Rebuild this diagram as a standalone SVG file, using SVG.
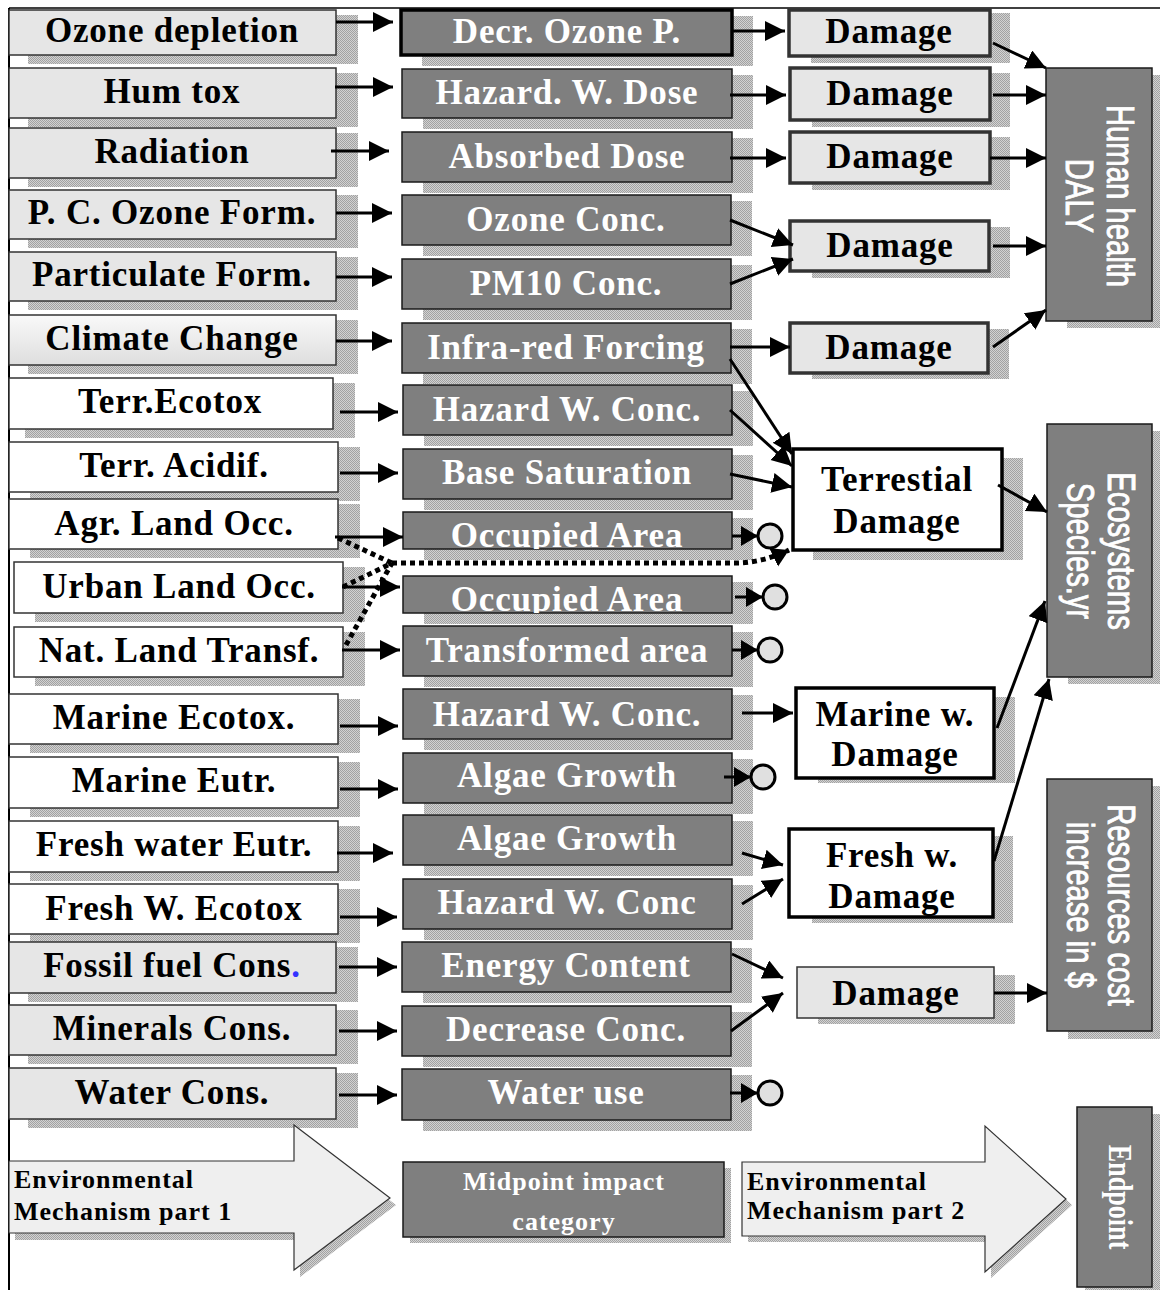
<svg xmlns="http://www.w3.org/2000/svg" width="1160" height="1290" viewBox="0 0 1160 1290">
  <defs>
    <!-- dithered grey used for drop shadows -->
    <pattern id="dots" width="2" height="2" patternUnits="userSpaceOnUse">
      <rect width="2" height="2" fill="#d2d2d2"/>
      <rect width="1" height="1" fill="#a2a2a2"/>
      <rect x="1" y="1" width="1" height="1" fill="#a2a2a2"/>
    </pattern>
    <linearGradient id="gradLight" x1="0" y1="0" x2="0" y2="1">
      <stop offset="0" stop-color="#f9f9f9"/>
      <stop offset="1" stop-color="#dedede"/>
    </linearGradient>
    <marker id="ah" markerUnits="userSpaceOnUse" markerWidth="22" markerHeight="22" refX="20" refY="10" orient="auto">
      <path d="M0,0 L20,10 L0,20 z" fill="#000"/>
    </marker>
    <marker id="ahs" markerUnits="userSpaceOnUse" markerWidth="20" markerHeight="22" refX="17" refY="10" orient="auto">
      <path d="M0,0 L17,10 L0,20 z" fill="#000"/>
    </marker>
    <clipPath id="clipOcc1"><rect x="403" y="512" width="329" height="37"/></clipPath>
    <clipPath id="clipOcc2"><rect x="403" y="576" width="329" height="37"/></clipPath>
    <clipPath id="clipMid"><rect x="403" y="1162" width="321" height="75"/></clipPath>
  </defs>
  <style>
    .sh { fill: url(#dots); }
    .lg { fill: #e6e6e6; stroke: #333; stroke-width: 1.5; }
    .lgr { fill: url(#gradLight); stroke: #333; stroke-width: 1.5; }
    .lw { fill: #fff; stroke: #333; stroke-width: 1.5; }
    .mid { fill: #7f7f7f; stroke: #1a1a1a; stroke-width: 1.5; }
    .midk { fill: #7f7f7f; stroke: #000; stroke-width: 3.5; }
    .dmg { fill: #e6e6e6; stroke: #333; stroke-width: 3.5; }
    .dmgt { fill: #e6e6e6; stroke: #333; stroke-width: 1.5; }
    .wbox { fill: #fff; stroke: #000; stroke-width: 3.5; }
    .end { fill: #7f7f7f; stroke: #1a1a1a; stroke-width: 1.5; }
    .bigarrow { fill: #efefef; stroke: #333; stroke-width: 1.2; }
    .term { fill: #e0e0e0; stroke: #000; stroke-width: 3; }
    .t { font-family: "Liberation Serif", "Times New Roman", serif; font-weight: 700; font-size: 35px; letter-spacing: 0.8px; text-anchor: middle; fill: #000; }
    .tw { fill: #fff; }
    .leg { font-family: "Liberation Serif", "Times New Roman", serif; font-weight: 700; font-size: 26px; letter-spacing: 1px; fill: #000; }
    .legw { font-family: "Liberation Serif", "Times New Roman", serif; font-weight: 700; font-size: 26px; letter-spacing: 1px; fill: #fff; text-anchor: middle; }
    .rs { font-family: "Liberation Sans", Arial, sans-serif; font-size: 38px; fill: #fff; stroke: #fff; stroke-width: 0.9; text-anchor: middle; }
    .rt { font-family: "Liberation Serif", "Times New Roman", serif; font-weight: 700; font-size: 34px; fill: #fff; text-anchor: middle; }
    .ln { stroke: #000; stroke-width: 3; fill: none; marker-end: url(#ah); }
    .lns { stroke: #000; stroke-width: 3; fill: none; marker-end: url(#ahs); }
    .dot { stroke: #000; stroke-width: 5; stroke-dasharray: 5 4; fill: none; }
    .frame { stroke: #000; fill: none; }
  </style>

  <rect width="1160" height="1290" fill="#fff"/>

  <!-- page frame -->
  <g id="frame">
    <line class="frame" x1="9" y1="8" x2="1160" y2="8" stroke-width="1.5"/>
    <line class="frame" x1="9" y1="8" x2="9" y2="1290" stroke-width="2"/>
  </g>

  <!-- impact categories (left column) -->
  <g id="cat-ozone-depletion"><rect class="sh" x="28" y="15" width="330" height="49"/><rect class="lg" x="9" y="10" width="327" height="45"/><text class="t" x="172" y="42">Ozone depletion</text></g>
  <g id="cat-hum-tox"><rect class="sh" x="28" y="73" width="330" height="54"/><rect class="lg" x="9" y="68" width="327" height="50"/><text class="t" x="172" y="103">Hum tox</text></g>
  <g id="cat-radiation"><rect class="sh" x="28" y="133" width="330" height="54"/><rect class="lg" x="9" y="128" width="327" height="50"/><text class="t" x="172" y="163">Radiation</text></g>
  <g id="cat-pc-ozone"><rect class="sh" x="28" y="195" width="330" height="53"/><rect class="lg" x="9" y="190" width="327" height="49"/><text class="t" x="172" y="224">P. C. Ozone Form.</text></g>
  <g id="cat-particulate"><rect class="sh" x="28" y="257" width="330" height="53"/><rect class="lg" x="9" y="252" width="327" height="49"/><text class="t" x="172" y="286">Particulate Form.</text></g>
  <g id="cat-climate"><rect class="sh" x="28" y="320" width="330" height="54"/><rect class="lgr" x="9" y="315" width="327" height="50"/><text class="t" x="172" y="350">Climate Change</text></g>
  <g id="cat-terr-ecotox"><rect class="sh" x="25" y="383" width="330" height="55"/><rect class="lw" x="9" y="378" width="324" height="51"/><text class="t" x="170" y="413">Terr.Ecotox</text></g>
  <g id="cat-terr-acidif"><rect class="sh" x="30" y="447" width="330" height="54"/><rect class="lw" x="9" y="442" width="329" height="50"/><text class="t" x="174" y="477">Terr. Acidif.</text></g>
  <g id="cat-agr-land"><rect class="sh" x="30" y="504" width="330" height="54"/><rect class="lw" x="9" y="499" width="329" height="50"/><text class="t" x="174" y="535">Agr. Land Occ.</text></g>
  <g id="cat-urban-land"><rect class="sh" x="35" y="567" width="330" height="55"/><rect class="lw" x="14" y="562" width="329" height="51"/><text class="t" x="179" y="598">Urban Land Occ.</text></g>
  <g id="cat-nat-land"><rect class="sh" x="35" y="632" width="330" height="54"/><rect class="lw" x="14" y="627" width="329" height="50"/><text class="t" x="179" y="662">Nat. Land Transf.</text></g>
  <g id="cat-marine-ecotox"><rect class="sh" x="30" y="699" width="330" height="54"/><rect class="lw" x="9" y="694" width="329" height="50"/><text class="t" x="174" y="729">Marine Ecotox.</text></g>
  <g id="cat-marine-eutr"><rect class="sh" x="30" y="762" width="330" height="55"/><rect class="lw" x="9" y="757" width="329" height="51"/><text class="t" x="174" y="792">Marine Eutr.</text></g>
  <g id="cat-fresh-eutr"><rect class="sh" x="30" y="826" width="330" height="55"/><rect class="lw" x="9" y="821" width="329" height="51"/><text class="t" x="174" y="856">Fresh water Eutr.</text></g>
  <g id="cat-fresh-ecotox"><rect class="sh" x="30" y="889" width="330" height="54"/><rect class="lw" x="9" y="884" width="329" height="50"/><text class="t" x="174" y="920">Fresh W. Ecotox</text></g>
  <g id="cat-fossil"><rect class="sh" x="28" y="947" width="330" height="55"/><rect class="lg" x="9" y="942" width="327" height="51"/><text class="t" x="172" y="977">Fossil fuel Cons<tspan fill="#3333ff">.</tspan></text></g>
  <g id="cat-minerals"><rect class="sh" x="28" y="1010" width="330" height="54"/><rect class="lg" x="9" y="1005" width="327" height="50"/><text class="t" x="172" y="1040">Minerals Cons.</text></g>
  <g id="cat-water"><rect class="sh" x="28" y="1073" width="330" height="55"/><rect class="lg" x="9" y="1068" width="327" height="51"/><text class="t" x="172" y="1104">Water Cons.</text></g>

  <!-- midpoint indicators (middle column) -->
  <g id="mid-decr-ozone"><rect class="sh" x="422" y="16" width="331" height="50"/><rect class="midk" x="401" y="10" width="331" height="45"/><text class="t tw" x="567" y="43">Decr. Ozone P.</text></g>
  <g id="mid-hazard-dose"><rect class="sh" x="423" y="75" width="330" height="54"/><rect class="mid" x="402" y="69" width="330" height="49"/><text class="t tw" x="567" y="104">Hazard. W. Dose</text></g>
  <g id="mid-absorbed"><rect class="sh" x="423" y="138" width="330" height="55"/><rect class="mid" x="402" y="132" width="330" height="50"/><text class="t tw" x="567" y="168">Absorbed Dose</text></g>
  <g id="mid-ozone-conc"><rect class="sh" x="423" y="201" width="329" height="55"/><rect class="mid" x="402" y="195" width="329" height="50"/><text class="t tw" x="566" y="231">Ozone Conc.</text></g>
  <g id="mid-pm10"><rect class="sh" x="423" y="265" width="329" height="55"/><rect class="mid" x="402" y="259" width="329" height="50"/><text class="t tw" x="566" y="295">PM10 Conc.</text></g>
  <g id="mid-infrared"><rect class="sh" x="423" y="329" width="329" height="55"/><rect class="mid" x="402" y="323" width="329" height="50"/><text class="t tw" x="566" y="359">Infra-red Forcing</text></g>
  <g id="mid-hazard-conc-terr"><rect class="sh" x="424" y="391" width="329" height="55"/><rect class="mid" x="403" y="385" width="329" height="50"/><text class="t tw" x="567" y="421">Hazard W. Conc.</text></g>
  <g id="mid-base-sat"><rect class="sh" x="424" y="455" width="329" height="55"/><rect class="mid" x="403" y="449" width="329" height="50"/><text class="t tw" x="567" y="484">Base Saturation</text></g>
  <g id="mid-occupied-1"><rect class="sh" x="424" y="518" width="329" height="42"/><rect class="mid" x="403" y="512" width="329" height="37"/><text class="t tw" x="567" y="547" clip-path="url(#clipOcc1)">Occupied Area</text></g>
  <g id="mid-occupied-2"><rect class="sh" x="424" y="582" width="329" height="42"/><rect class="mid" x="403" y="576" width="329" height="37"/><text class="t tw" x="567" y="611" clip-path="url(#clipOcc2)">Occupied Area</text></g>
  <g id="mid-transformed"><rect class="sh" x="424" y="632" width="329" height="55"/><rect class="mid" x="403" y="626" width="329" height="50"/><text class="t tw" x="567" y="662">Transformed area</text></g>
  <g id="mid-hazard-conc-marine"><rect class="sh" x="424" y="695" width="329" height="55"/><rect class="mid" x="403" y="689" width="329" height="50"/><text class="t tw" x="567" y="726">Hazard W. Conc.</text></g>
  <g id="mid-algae-1"><rect class="sh" x="424" y="759" width="329" height="55"/><rect class="mid" x="403" y="753" width="329" height="50"/><text class="t tw" x="567" y="787">Algae Growth</text></g>
  <g id="mid-algae-2"><rect class="sh" x="424" y="821" width="329" height="55"/><rect class="mid" x="403" y="815" width="329" height="50"/><text class="t tw" x="567" y="850">Algae Growth</text></g>
  <g id="mid-hazard-conc-fresh"><rect class="sh" x="424" y="885" width="329" height="55"/><rect class="mid" x="403" y="879" width="329" height="50"/><text class="t tw" x="567" y="914">Hazard W. Conc</text></g>
  <g id="mid-energy"><rect class="sh" x="423" y="948" width="329" height="55"/><rect class="mid" x="402" y="942" width="329" height="50"/><text class="t tw" x="566" y="977">Energy Content</text></g>
  <g id="mid-decrease"><rect class="sh" x="423" y="1012" width="329" height="55"/><rect class="mid" x="402" y="1006" width="329" height="50"/><text class="t tw" x="566" y="1041">Decrease Conc.</text></g>
  <g id="mid-water-use"><rect class="sh" x="423" y="1075" width="329" height="56"/><rect class="mid" x="402" y="1069" width="329" height="51"/><text class="t tw" x="566" y="1104">Water use</text></g>

  <!-- damage nodes -->
  <g id="dmg-ozone"><rect class="sh" x="811" y="13" width="199" height="50"/><rect class="dmg" x="789" y="10" width="201" height="46"/><text class="t" x="889" y="43">Damage</text></g>
  <g id="dmg-hazard"><rect class="sh" x="812" y="73" width="198" height="54"/><rect class="dmg" x="790" y="68" width="200" height="52"/><text class="t" x="890" y="105">Damage</text></g>
  <g id="dmg-radiation"><rect class="sh" x="812" y="137" width="198" height="53"/><rect class="dmg" x="790" y="132" width="200" height="51"/><text class="t" x="890" y="168">Damage</text></g>
  <g id="dmg-ozone-pm"><rect class="sh" x="812" y="227" width="198" height="51"/><rect class="dmg" x="790" y="221" width="199" height="50"/><text class="t" x="890" y="257">Damage</text></g>
  <g id="dmg-climate"><rect class="sh" x="812" y="329" width="197" height="50"/><rect class="dmg" x="790" y="323" width="198" height="50"/><text class="t" x="889" y="359">Damage</text></g>
  <g id="dmg-terrestrial"><rect class="sh" x="813" y="458" width="210" height="102"/><rect class="wbox" x="793" y="449" width="209" height="101"/><text class="t" x="897" y="491">Terrestial</text><text class="t" x="897" y="533">Damage</text></g>
  <g id="dmg-marine"><rect class="sh" x="818" y="697" width="197" height="86"/><rect class="wbox" x="796" y="688" width="198" height="90"/><text class="t" x="895" y="726">Marine w.</text><text class="t" x="895" y="766">Damage</text></g>
  <g id="dmg-fresh"><rect class="sh" x="812" y="836" width="201" height="87"/><rect class="wbox" x="789" y="829" width="204" height="88"/><text class="t" x="892" y="867">Fresh w.</text><text class="t" x="892" y="908">Damage</text></g>
  <g id="dmg-resources"><rect class="sh" x="818" y="975" width="197" height="49"/><rect class="dmgt" x="797" y="967" width="197" height="51"/><text class="t" x="896" y="1005">Damage</text></g>

  <!-- end-of-chain terminators -->
  <g id="term-occupied-1"><circle class="term" cx="770" cy="536" r="12"/></g>
  <g id="term-occupied-2"><circle class="term" cx="775" cy="597" r="12"/></g>
  <g id="term-transformed"><circle class="term" cx="770" cy="650" r="12"/></g>
  <g id="term-algae"><circle class="term" cx="763" cy="777" r="12"/></g>
  <g id="term-water"><circle class="term" cx="770" cy="1093" r="12"/></g>

  <!-- endpoint categories -->
  <g id="end-human-health"><rect class="sh" x="1067" y="75" width="93" height="253"/><rect class="end" x="1046" y="68" width="106" height="253"/><text class="rs" transform="translate(1107,196) rotate(90) scale(0.77,1)">Human health</text><text class="rs" transform="translate(1066,196) rotate(90) scale(0.77,1)">DALY</text></g>
  <g id="end-ecosystems"><rect class="sh" x="1068" y="431" width="92" height="253"/><rect class="end" x="1047" y="424" width="105" height="253"/><text class="rs" transform="translate(1108,551) rotate(90) scale(0.77,1)">Ecosystems</text><text class="rs" transform="translate(1067,551) rotate(90) scale(0.77,1)">Species.yr</text></g>
  <g id="end-resources"><rect class="sh" x="1068" y="786" width="92" height="253"/><rect class="end" x="1047" y="779" width="105" height="252"/><text class="rs" transform="translate(1108,905) rotate(90) scale(0.77,1)">Resources cost</text><text class="rs" transform="translate(1067,905) rotate(90) scale(0.77,1)">increase in $</text></g>

  <!-- legend -->
  <g id="legend-mechanism-1">
    <path class="sh" d="M15,1168 L300,1168 L300,1132 L396,1205 L300,1277 L300,1240 L15,1240 Z"/>
    <path class="bigarrow" d="M9,1161 L294,1161 L294,1125 L390,1198 L294,1270 L294,1233 L9,1233 Z"/>
    <text class="leg" x="14" y="1188">Environmental</text>
    <text class="leg" x="14" y="1220">Mechanism part 1</text>
  </g>
  <g id="legend-midpoint">
    <rect class="sh" x="410" y="1168" width="321" height="75"/>
    <rect class="end" x="403" y="1162" width="321" height="75"/>
    <g clip-path="url(#clipMid)">
      <text class="legw" x="564" y="1190">Midpoint impact</text>
      <text class="legw" x="564" y="1230">category</text>
    </g>
  </g>
  <g id="legend-mechanism-2">
    <path class="sh" d="M748,1168 L991,1168 L991,1132 L1072,1205 L991,1278 L991,1242 L748,1242 Z"/>
    <path class="bigarrow" d="M742,1162 L985,1162 L985,1126 L1066,1199 L985,1272 L985,1236 L742,1236 Z"/>
    <text class="leg" x="747" y="1190">Environmental</text>
    <text class="leg" x="747" y="1219">Mechanism part 2</text>
  </g>
  <g id="legend-endpoint">
    <rect class="sh" x="1085" y="1114" width="75" height="176"/>
    <rect class="end" x="1077" y="1107" width="75" height="180"/>
    <text class="rt" transform="translate(1109,1197) rotate(90) scale(0.77,1)">Endpoint</text>
  </g>

  <!-- connectors -->
  <g id="connectors">
    <!-- category to midpoint -->
    <line class="ln" x1="336" y1="22" x2="393" y2="22"/>
    <line class="ln" x1="335" y1="87" x2="393" y2="87"/>
    <line class="ln" x1="331" y1="151" x2="389" y2="151"/>
    <line class="ln" x1="336" y1="213" x2="392" y2="213"/>
    <line class="ln" x1="336" y1="277" x2="392" y2="277"/>
    <line class="ln" x1="336" y1="341" x2="392" y2="341"/>
    <line class="ln" x1="340" y1="412" x2="398" y2="412"/>
    <line class="ln" x1="340" y1="473" x2="398" y2="473"/>
    <line class="ln" x1="335" y1="537" x2="403" y2="537"/>
    <line class="ln" x1="342" y1="587" x2="400" y2="587"/>
    <line class="ln" x1="342" y1="650" x2="400" y2="650"/>
    <line class="ln" x1="340" y1="726" x2="398" y2="726"/>
    <line class="ln" x1="340" y1="789" x2="398" y2="789"/>
    <line class="ln" x1="337" y1="853" x2="393" y2="853"/>
    <line class="ln" x1="340" y1="917" x2="397" y2="917"/>
    <line class="ln" x1="339" y1="967" x2="397" y2="967"/>
    <line class="ln" x1="339" y1="1031" x2="397" y2="1031"/>
    <line class="ln" x1="339" y1="1095" x2="397" y2="1095"/>

    <!-- land use: dotted path to terrestrial damage -->
    <path class="dot" d="M338,538 L392,563"/>
    <path class="dot" d="M343,587 L392,563"/>
    <path class="dot" d="M346,645 L392,563"/>
    <path class="dot" d="M392,563 L735,563 Q762,563 789,550" marker-end="url(#ahs)"/>

    <!-- midpoint to damage -->
    <line class="ln" x1="732" y1="31" x2="785" y2="31"/>
    <line class="ln" x1="730" y1="95" x2="786" y2="95"/>
    <line class="ln" x1="730" y1="158" x2="786" y2="158"/>
    <line class="ln" x1="730" y1="220" x2="793" y2="245"/>
    <line class="ln" x1="730" y1="284" x2="793" y2="259"/>
    <line class="ln" x1="730" y1="347" x2="790" y2="347"/>
    <line class="ln" x1="730" y1="359" x2="792" y2="454"/>
    <line class="ln" x1="730" y1="410" x2="792" y2="466"/>
    <line class="ln" x1="730" y1="474" x2="792" y2="487"/>
    <line class="ln" x1="742" y1="713" x2="793" y2="713"/>
    <line class="ln" x1="742" y1="853" x2="783" y2="865"/>
    <line class="ln" x1="742" y1="904" x2="783" y2="879"/>
    <line class="ln" x1="732" y1="954" x2="783" y2="978"/>
    <line class="ln" x1="731" y1="1031" x2="783" y2="993"/>

    <!-- midpoint to terminators -->
    <line class="lns" x1="732" y1="536" x2="758" y2="536"/>
    <line class="lns" x1="735" y1="597" x2="763" y2="597"/>
    <line class="lns" x1="732" y1="650" x2="758" y2="650"/>
    <line class="lns" x1="724" y1="777" x2="751" y2="777"/>
    <line class="lns" x1="730" y1="1093" x2="758" y2="1093"/>

    <!-- damage to endpoint -->
    <line class="ln" x1="993" y1="43" x2="1046" y2="68"/>
    <line class="ln" x1="993" y1="95" x2="1046" y2="95"/>
    <line class="ln" x1="990" y1="158" x2="1046" y2="158"/>
    <line class="ln" x1="993" y1="246" x2="1046" y2="246"/>
    <line class="ln" x1="993" y1="347" x2="1046" y2="310"/>
    <line class="ln" x1="998" y1="485" x2="1047" y2="512"/>
    <line class="ln" x1="997" y1="728" x2="1045" y2="601"/>
    <line class="ln" x1="994" y1="861" x2="1049" y2="679"/>
    <line class="ln" x1="994" y1="993" x2="1047" y2="993"/>
  </g>
</svg>
